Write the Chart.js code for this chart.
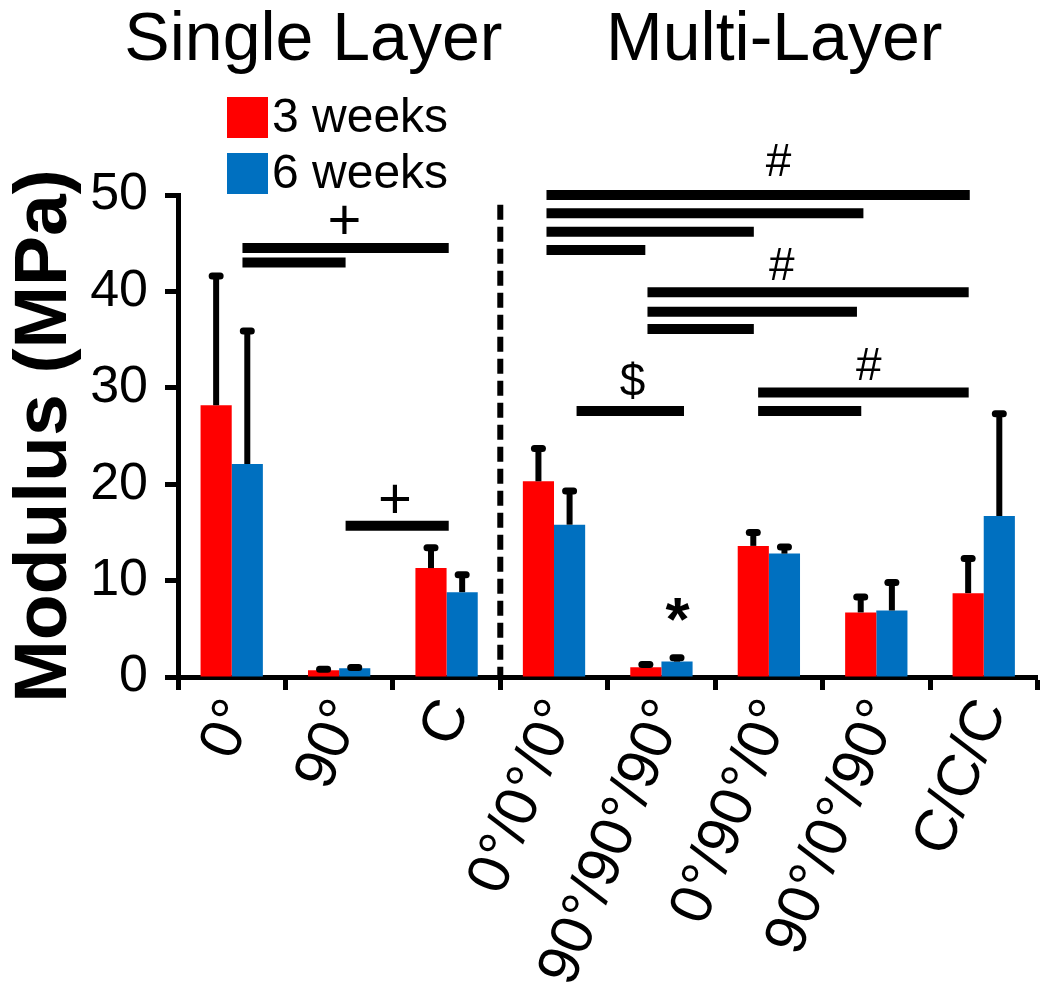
<!DOCTYPE html>
<html>
<head>
<meta charset="utf-8">
<script src="https://cdn.jsdelivr.net/npm/chart.js@4.4.0/dist/chart.umd.min.js"></script>
<style>
  html, body { margin: 0; padding: 0; background: #fff; }
</style>
</head>
<body>
<canvas id="myChart" width="1050" height="983"></canvas>
<script>
//Data
let categories = ['0°', '90°', 'C', '0°/0°/0°', '90°/90°/90°', '0°/90°/0°', '90°/0°/90°', 'C/C/C'];
let weeks3 = [28.2, 0.7, 11.3, 20.3, 1.0, 13.6, 6.7, 8.7];
let weeks6 = [22.1, 0.9, 8.8, 15.8, 1.6, 12.8, 6.9, 16.7];
// top end of the (upper only) error bars
let weeks3Err = [41.7, 0.9, 13.5, 23.8, 1.4, 15.1, 8.4, 12.4];
let weeks6Err = [36.0, 1.1, 10.7, 19.4, 2.1, 13.6, 9.9, 27.4];
let yTicks = [0, 10, 20, 30, 40, 50];
let seriesNames = ['3 weeks', '6 weeks'];
let seriesColors = ['#ff0000', '#0070c0'];

// significance bars: [from category, to category, modulus]
let sigBars = [
  [0.10, 2.02, 44.5], [0.10, 1.06, 43.0], [1.06, 2.02, 15.7],
  [2.93, 6.87, 50.0], [2.93, 5.88, 48.1], [2.93, 4.86, 46.2], [2.93, 3.85, 44.3],
  [3.87, 6.86, 39.9], [3.87, 5.82, 37.9], [3.87, 4.86, 36.1],
  [3.21, 4.21, 27.6],
  [4.90, 6.86, 29.5], [4.90, 5.86, 27.6]
];
// significance symbols: [text, category, modulus]
let sigMarks = [
  ['+', 1.05, 47.1], ['+', 1.52, 18.2],
  ['#', 5.09, 53.3], ['#', 5.12, 42.5], ['#', 5.93, 32.1],
  ['$', 3.73, 30.5], ['*', 4.15, 5.6]
];
// panel headings: [text, category, modulus]
let panelTitles = [['Single Layer', 0.76, 64], ['Multi-Layer', 5.05, 64]];
let dividerAt = 2.5;

Chart.defaults.font.family = '"Liberation Sans", Arial, sans-serif';
Chart.defaults.color = '#000';

const errorBars = {
  id: 'errorBars',
  afterDatasetsDraw(chart) {
    const ctx = chart.ctx, y = chart.scales.y;
    [weeks3Err, weeks6Err].forEach((errs, d) => {
      chart.getDatasetMeta(d).data.forEach((bar, i) => {
        const top = y.getPixelForValue(errs[i]);
        ctx.save();
        ctx.strokeStyle = '#000';
        ctx.lineWidth = 6;
        ctx.beginPath();
        ctx.moveTo(bar.x, bar.y);
        ctx.lineTo(bar.x, top);
        ctx.stroke();
        ctx.lineCap = 'round';
        ctx.lineWidth = 7;
        ctx.beginPath();
        ctx.moveTo(bar.x - 4, top + 1);
        ctx.lineTo(bar.x + 4, top + 1);
        ctx.stroke();
        ctx.restore();
      });
    });
  }
};

const extras = {
  id: 'extras',
  afterDraw(chart) {
    const ctx = chart.ctx, x = chart.scales.x, y = chart.scales.y;
    ctx.save();
    // dashed divider between single and multi layer
    ctx.strokeStyle = '#000';
    ctx.lineWidth = 6;
    ctx.setLineDash([15, 7]);
    ctx.beginPath();
    ctx.moveTo(x.getPixelForValue(dividerAt), y.getPixelForValue(49));
    ctx.lineTo(x.getPixelForValue(dividerAt), y.getPixelForValue(0));
    ctx.stroke();
    ctx.setLineDash([]);

    // significance bars
    ctx.lineWidth = 10;
    sigBars.forEach(b => {
      ctx.beginPath();
      ctx.moveTo(x.getPixelForValue(b[0]), y.getPixelForValue(b[2]));
      ctx.lineTo(x.getPixelForValue(b[1]), y.getPixelForValue(b[2]));
      ctx.stroke();
    });

    ctx.fillStyle = '#000';
    ctx.textAlign = 'center';
    ctx.textBaseline = 'middle';
    sigMarks.forEach(m => {
      ctx.font = m[0] === '*' ? 'bold 62px "Liberation Sans"' : (m[0] === '+' ? '58px "Liberation Sans"' : '46px "Liberation Sans"');
      ctx.fillText(m[0], x.getPixelForValue(m[1]), y.getPixelForValue(m[2]));
    });

    // panel headings
    ctx.font = '68px "Liberation Sans"';
    ctx.textBaseline = 'alphabetic';
    panelTitles.forEach(t => {
      ctx.fillText(t[0], x.getPixelForValue(t[1]), y.getPixelForValue(t[2]));
    });

    // legend
    ctx.font = '48px "Liberation Sans"';
    ctx.textAlign = 'left';
    ctx.textBaseline = 'middle';
    seriesNames.forEach((name, i) => {
      ctx.fillStyle = seriesColors[i];
      ctx.fillRect(227, 97 + i * 56, 41, 41);
      ctx.fillStyle = '#000';
      ctx.fillText(name, 272, 119 + i * 56);
    });
    ctx.restore();
  }
};

var ctx = document.getElementById('myChart').getContext('2d');
var myChart = new Chart(ctx, {
  type: 'bar',
  data: {
    labels: categories,
    datasets: [
      { label: seriesNames[0], data: weeks3, backgroundColor: seriesColors[0], borderWidth: 0 },
      { label: seriesNames[1], data: weeks6, backgroundColor: seriesColors[1], borderWidth: 0 }
    ]
  },
  options: {
    responsive: false,
    animation: false,
    datasets: { bar: { categoryPercentage: 0.58, barPercentage: 1.0 } },
    layout: { padding: { top: 195, right: 10, left: 0, bottom: 0 } },
    plugins: { legend: { display: false }, tooltip: { enabled: false } },
    scales: {
      x: {
        grid: { display: true, drawOnChartArea: false, drawTicks: true, tickLength: 13, tickWidth: 5, tickColor: '#000', offset: true },
        border: { display: true, width: 5, color: '#000' },
        ticks: { font: { size: 59 }, color: '#000', minRotation: 68, maxRotation: 68, autoSkip: false, padding: 0, labelOffset: 8 },
        afterFit: s => { s.height = 983 - 677; }
      },
      y: {
        min: 0,
        max: 50,
        afterBuildTicks: s => { s.ticks = yTicks.map(v => ({ value: v })); },
        grid: { display: true, drawOnChartArea: false, drawTicks: true, tickLength: 13, tickWidth: 5, tickColor: '#000' },
        border: { display: true, width: 5, color: '#000' },
        ticks: { font: { size: 52 }, color: '#000', padding: 17 },
        title: { display: true, text: 'Modulus (MPa)', font: { size: 75, weight: 'bold' }, color: '#000', padding: 0 },
        afterFit: s => { s.width = 178; }
      }
    }
  },
  plugins: [errorBars, extras]
});
</script>
</body>
</html>
